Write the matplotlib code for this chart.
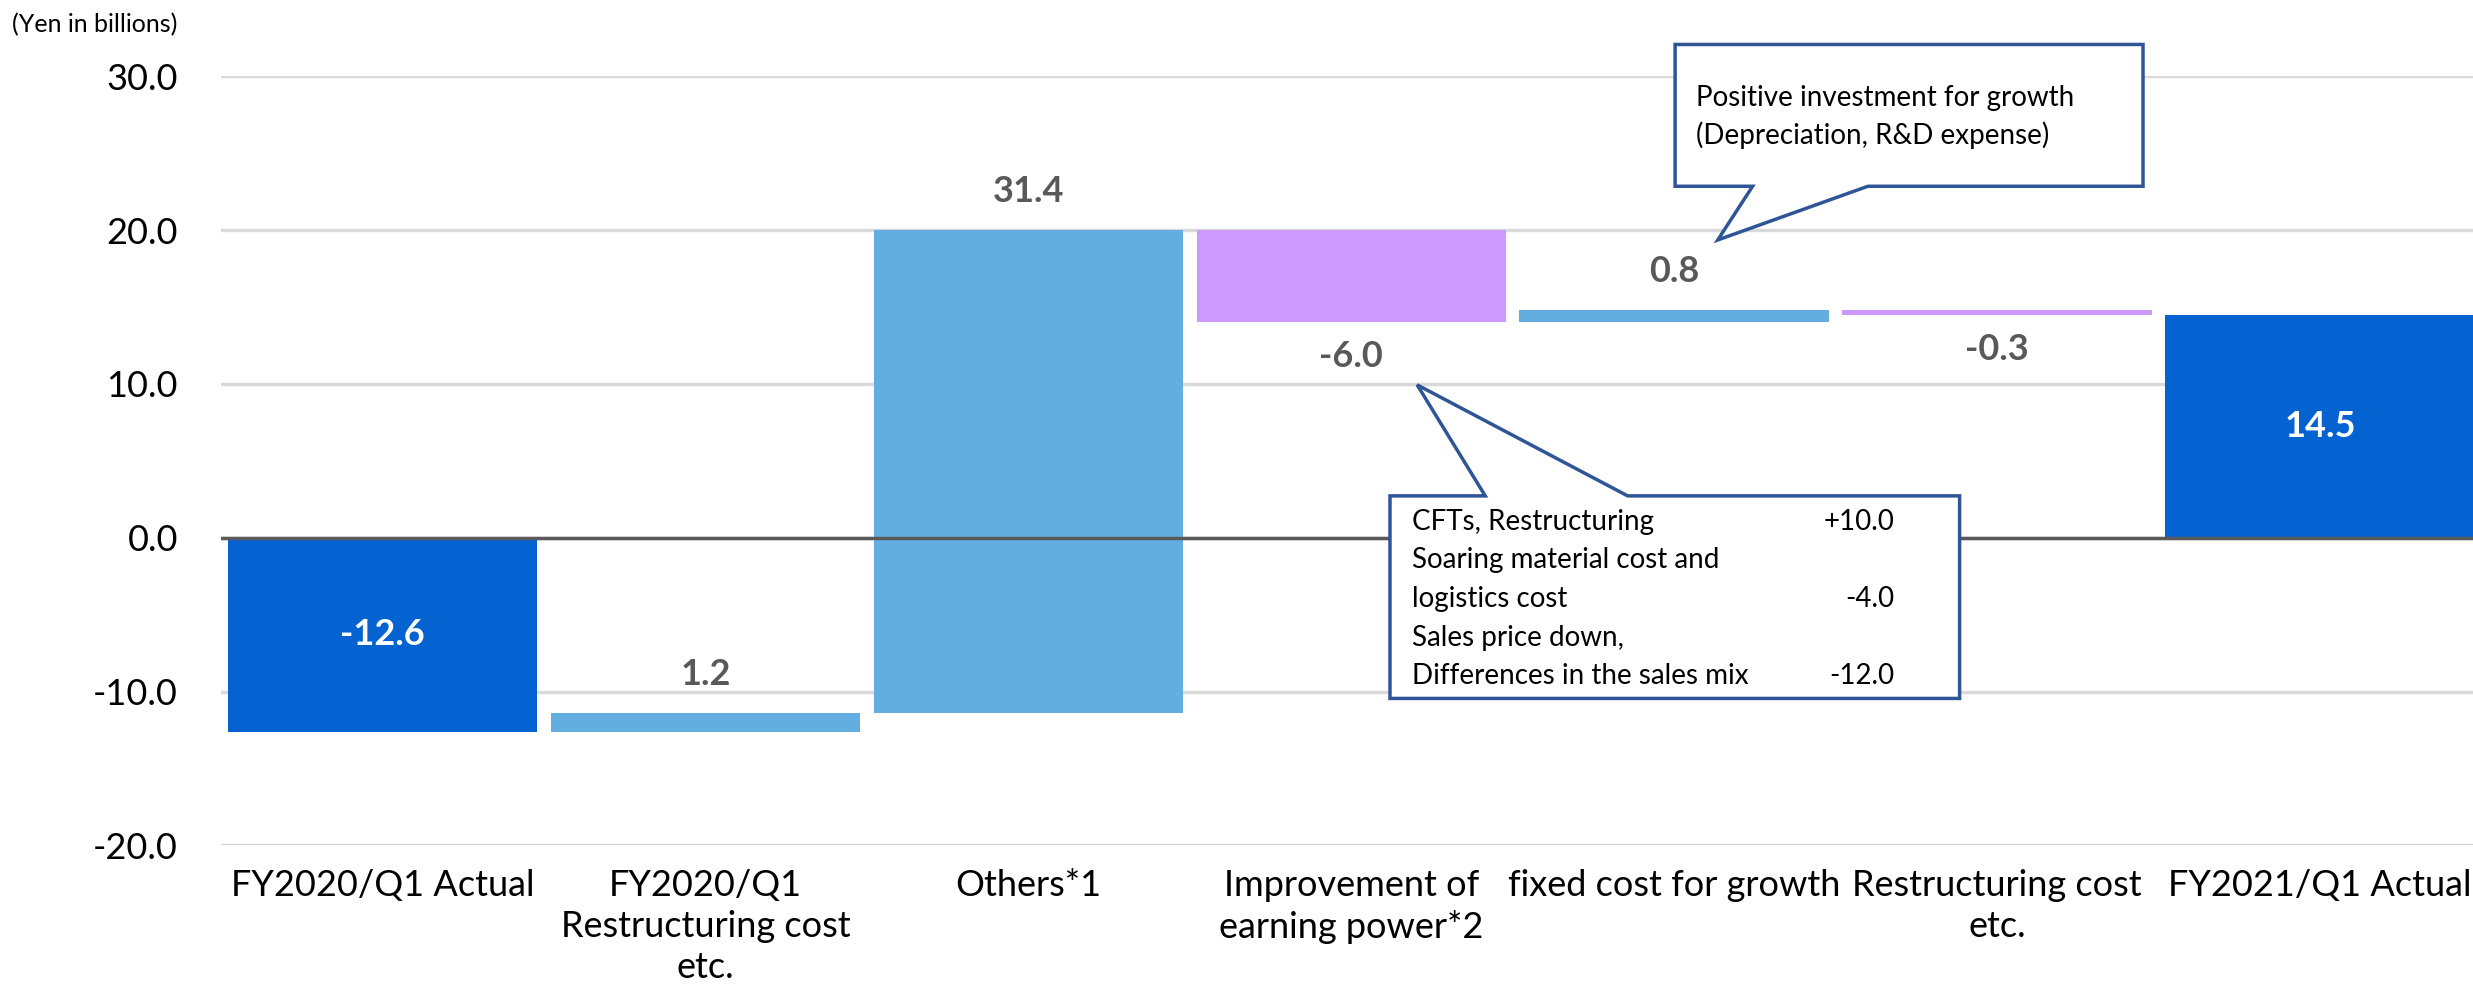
"""Waterfall chart: operating income bridge FY2020/Q1 -> FY2021/Q1."""

import matplotlib

matplotlib.use("Agg")
import matplotlib.pyplot as plt  # noqa: E402
from matplotlib.patches import Polygon  # noqa: E402

plt.rcParams["font.family"] = ["Lato", "DejaVu Sans"]

CATEGORIES = [
    "FY2020/Q1 Actual",
    "FY2020/Q1\nRestructuring cost\netc.",
    "Others*1",
    "Improvement of\nearning power*2",
    "fixed cost for growth",
    "Restructuring cost\netc.",
    "FY2021/Q1 Actual",
]
VALUES = [-12.6, 1.2, 31.4, -6.0, 0.8, -0.3, 14.5]
IS_TOTAL = [True, False, False, False, False, False, True]
Y_TICKS = [-20, -10, 0, 10, 20, 30]

NOTE_GROWTH = ["Positive investment for growth", "(Depreciation, R&D expense)"]
NOTE_ITEMS = [
    ("CFTs, Restructuring", "+10.0"),
    ("Soaring material cost and", ""),
    ("logistics cost", "-4.0"),
    ("Sales price down,", ""),
    ("Differences in the sales mix", "-12.0"),
]

DARK_BLUE = "#0563d1"
LIGHT_BLUE = "#62aee0"
PURPLE = "#cc99ff"
LABEL_GRAY = "#595959"
CALLOUT = "#2f5597"


def waterfall_geometry(values, is_total):
    bottoms, heights = [], []
    running = 0.0
    for value, total in zip(values, is_total):
        if total:
            bottoms.append(min(0.0, value))
            heights.append(abs(value))
            running = value
        else:
            bottoms.append(min(running, running + value))
            heights.append(abs(value))
            running += value
    return bottoms, heights


def bar_colour(value, total):
    if total:
        return DARK_BLUE
    return LIGHT_BLUE if value >= 0 else PURPLE


def draw_callout(ax, box, pointer, edge):
    left, right, bottom, top = box
    base_l, base_r, tip = pointer
    if edge == "bottom":
        pts = [(left, top), (right, top), (right, bottom), (base_r, bottom),
               tip, (base_l, bottom), (left, bottom)]
    else:
        pts = [(left, top), (base_l, top), tip, (base_r, top),
               (right, top), (right, bottom), (left, bottom)]
    ax.add_patch(Polygon(pts, closed=True, facecolor="white", edgecolor=CALLOUT,
                         linewidth=2.5, clip_on=False, zorder=6))


fig = plt.figure(figsize=(24.73, 9.91), dpi=100)
ax = fig.add_axes([0.0894, 0.147, 0.914, 0.776])

x = list(range(len(CATEGORIES)))
bottoms, heights = waterfall_geometry(VALUES, IS_TOTAL)
colours = [bar_colour(v, t) for v, t in zip(VALUES, IS_TOTAL)]
ax.bar(x, heights, bottom=bottoms, width=0.958, color=colours, zorder=2)

for i, (value, total) in enumerate(zip(VALUES, IS_TOTAL)):
    text = f"{value:.1f}"
    if total:
        ax.text(i, bottoms[i] + heights[i] / 2, text, ha="center", va="center",
                color="white", fontsize=26, fontweight="bold", zorder=4)
    elif value >= 0:
        ax.annotate(text, (i, bottoms[i] + heights[i]), xytext=(0, 16),
                    textcoords="offset points", ha="center", va="bottom",
                    color=LABEL_GRAY, fontsize=26, fontweight="bold")
    else:
        ax.annotate(text, (i, bottoms[i]), xytext=(0, -13),
                    textcoords="offset points", ha="center", va="top",
                    color=LABEL_GRAY, fontsize=26, fontweight="bold")

ax.set_xlim(-0.5, len(CATEGORIES) - 0.5)
ax.set_ylim(-20, 30)
ax.set_yticks(Y_TICKS)
ax.set_yticklabels([f"{t:.1f}" for t in Y_TICKS])
ax.set_xticks(x)
ax.set_xticklabels(CATEGORIES, linespacing=1.3)
ax.tick_params(axis="y", length=0, pad=31, labelsize=26)
ax.tick_params(axis="x", length=0, pad=17, labelsize=26)
ax.yaxis.grid(True, color="#d9d9d9", linewidth=2.5, zorder=0)
ax.set_axisbelow(True)
ax.axhline(0, color=LABEL_GRAY, linewidth=2.5, zorder=3)
for spine in ax.spines.values():
    spine.set_visible(False)

fig.text(0.005, 0.975, "(Yen in billions)", fontsize=18, ha="left", va="center")

# callout: fixed cost for growth
draw_callout(ax, (4.003, 5.452, 22.85, 32.07), (4.243, 4.600, (4.135, 19.36)), "bottom")
for y, line in zip([28.6, 26.2], NOTE_GROWTH):
    ax.text(4.067, y, line, fontsize=20, va="center", zorder=7)

# callout: improvement of earning power breakdown
draw_callout(ax, (3.120, 4.884, -10.45, 2.72), (3.415, 3.856, (3.204, 9.94)), "top")
note_y = [1.05, -1.44, -3.97, -6.49, -8.98]
for y, (label, amount) in zip(note_y, NOTE_ITEMS):
    ax.text(3.188, y, label, fontsize=20, va="center", zorder=7)
    if amount:
        ax.text(4.682, y, amount, fontsize=20, va="center", ha="right", zorder=7)

fig.savefig("out.png", dpi=100)
